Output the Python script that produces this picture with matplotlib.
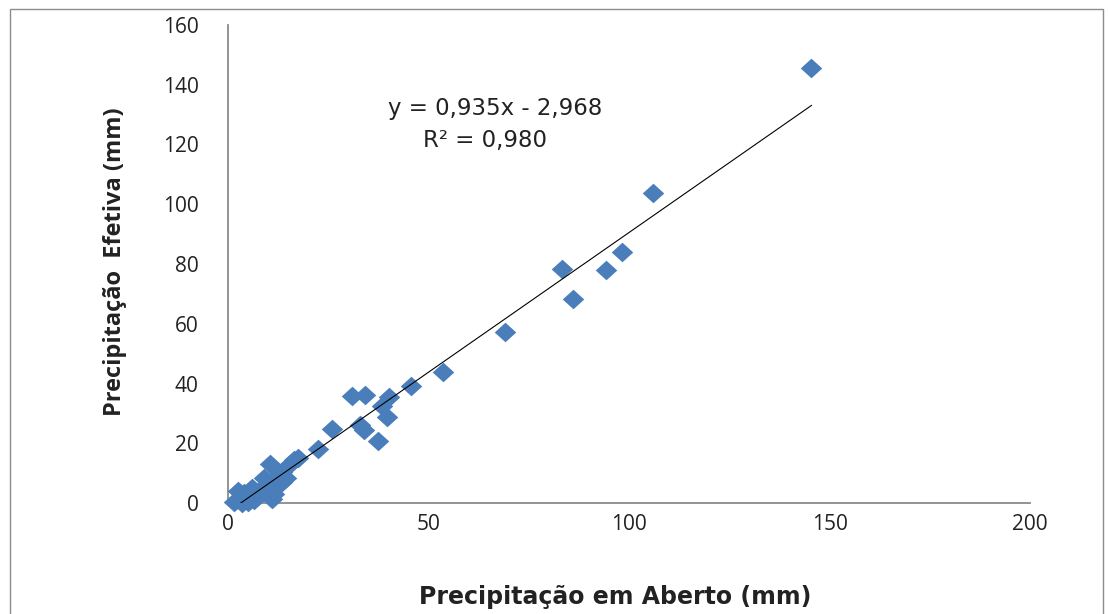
import matplotlib
matplotlib.use("Agg")
import matplotlib.pyplot as plt
from matplotlib.patches import Rectangle
import numpy as np

# ---- data ----
precip_aberto = [1.5, 2.5, 3.5, 4.0, 5.0, 5.5, 6.0, 6.5, 7.5, 8.0, 9.0, 9.0, 10.0,
                 10.5, 11.0, 11.5, 11.5, 12.5, 13.5, 13.5, 14.5, 15.5, 16.5, 17.5,
                 22.5, 26.0, 30.8, 33.0, 33.8, 34.2, 37.5, 38.3, 39.6, 40.2, 45.6,
                 53.6, 69.1, 83.4, 86.1, 94.3, 98.2, 106.0, 145.5]
precip_efetiva = [0.5, 4.0, 0.0, 3.5, 0.5, 2.0, 5.0, 1.0, 2.5, 4.5, 5.5, 8.5, 3.0,
                  13.0, 1.5, 3.0, 8.0, 6.5, 7.0, 10.5, 8.5, 13.0, 14.5, 15.0,
                  18.0, 24.8, 35.8, 26.0, 24.5, 36.0, 20.8, 32.5, 28.8, 35.5, 39.2,
                  44.0, 57.1, 78.4, 68.2, 78.1, 83.9, 103.9, 145.6]
trend_slope = 0.935
trend_intercept = -2.968
r_squared = 0.980
x_ticks = [0, 50, 100, 150, 200]
y_ticks = [0, 20, 40, 60, 80, 100, 120, 140, 160]
eq_line1 = "y = 0,935x - 2,968"
eq_line2 = "R² = 0,980"
x_label = "Precipitação em Aberto (mm)"
y_label = "Precipitação  Efetiva (mm)"

W, H = 1108, 614
fig = plt.figure(figsize=(W / 100, H / 100), dpi=100)
fig.patch.set_facecolor("white")

# outer chart border
fig.patches.append(Rectangle((10 / W, -0.05), (1103 - 10) / W, 1.05 - 9 / H,
                             transform=fig.transFigure, fill=False,
                             edgecolor="#8c8c8c", linewidth=1.0))

left, right, y0px, y160px = 228, 1030, 503, 25
ax = fig.add_axes([left / W, (H - y0px) / H, (right - left) / W, (y0px - y160px) / H])
ax.set_xlim(0, 200)
ax.set_ylim(0, 160)

# markers: slightly wide diamond
diamond = [(-1.1, 0), (0, 1), (1.1, 0), (0, -1), (-1.1, 0)]
ax.plot(precip_aberto, precip_efetiva, linestyle="none", marker=diamond,
        markersize=15.5, color="#4A7EBB", markeredgewidth=0, clip_on=False, zorder=3)

# linear trendline (clipped to plot area like Excel)
xs = np.array([min(precip_aberto), max(precip_aberto)])
ax.plot(xs, trend_slope * xs + trend_intercept, color="black", linewidth=0.8, zorder=4)

for s in ["top", "right"]:
    ax.spines[s].set_visible(False)
for s in ["left", "bottom"]:
    ax.spines[s].set_color("#8a8a8a")
    ax.spines[s].set_linewidth(1.3)
ax.set_xticks(x_ticks)
ax.set_yticks(y_ticks)
ax.tick_params(axis="both", length=0, labelsize=15, colors="#222222")
ax.tick_params(axis="y", pad=21)
ax.tick_params(axis="x", pad=8)
for lbl in ax.get_xticklabels() + ax.get_yticklabels():
    lbl.set_fontfamily("Open Sans")

fig.text(615 / W, 1 - 597 / H, x_label, ha="center", va="center",
         fontsize=17, fontweight="bold", family="DejaVu Sans", color="#222222")
fig.text(115 / W, 1 - 262 / H, y_label, ha="center", va="center", rotation=90,
         fontsize=17, fontweight="bold", family="Open Sans", color="#222222")

fig.text(495 / W, 1 - 108 / H, eq_line1, ha="center", va="center",
         fontsize=16.5, family="DejaVu Sans", color="#222222")
fig.text(485 / W, 1 - 140 / H, eq_line2, ha="center", va="center",
         fontsize=16.5, family="DejaVu Sans", color="#222222")

fig.savefig("out.png", dpi=100)
